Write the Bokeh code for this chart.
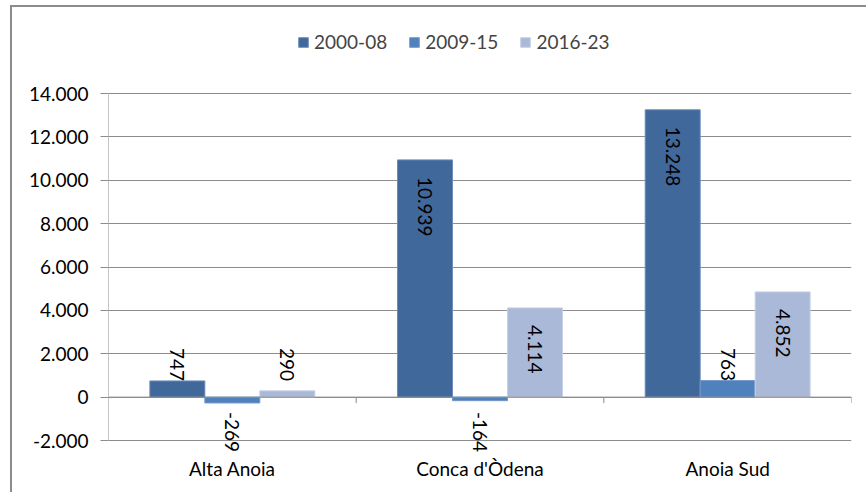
import math
from bokeh.plotting import figure
from bokeh.models import (ColumnDataSource, Range1d, FixedTicker, Legend, LegendItem, Span)
from bokeh.core.properties import value
from bokeh.embed import file_html
from bokeh.resources import INLINE

# ---- data ----
categories = ["Alta Anoia", "Conca d'Òdena", "Anoia Sud"]
series_names = ["2000-08", "2009-15", "2016-23"]
s_2000_08 = [747, 10939, 13248]
s_2009_15 = [-269, -164, 763]
s_2016_23 = [290, 4114, 4852]
y_ticks = [-2000, 0, 2000, 4000, 6000, 8000, 10000, 12000, 14000]
y_tick_labels = ["-2.000", "0", "2.000", "4.000", "6.000", "8.000", "10.000", "12.000", "14.000"]

colors = ["#40689A", "#4F81BD", "#AAB9D7"]
edge_colors = ["#6A8DBC", "#7398C8", "#C6D1E6"]
FONT = "Lato"
FS = "19px"
GRID = "#8C8C8C"

# ---- layout (page pixels) ----
CANVAS_X, CANVAS_Y = 12, 7          # where the canvas starts (after css margin+border)
W, H = 868 - CANVAS_X, 494 - CANVAS_Y
FRAME_LEFT, FRAME_RIGHT = 108, 851
FRAME_TOP, FRAME_BOTTOM = 20, 454
Y_TOP_PX, Y_BOT_PX = 93, 440       # pixel rows of 14.000 and -2.000
YMIN, YMAX = y_ticks[0], y_ticks[-1]
ppu = (Y_BOT_PX - Y_TOP_PX) / (YMAX - YMIN)
y_start = YMIN - (FRAME_BOTTOM - Y_BOT_PX) / ppu
y_end = YMAX + (Y_TOP_PX - FRAME_TOP) / ppu

p = figure(width=W, height=H, output_backend="svg", toolbar_location=None,
           x_range=Range1d(0, len(categories)), y_range=Range1d(y_start, y_end),
           min_border_left=FRAME_LEFT - CANVAS_X, min_border_right=868 - FRAME_RIGHT,
           min_border_top=FRAME_TOP - CANVAS_Y, min_border_bottom=494 - FRAME_BOTTOM,
           styles={"margin-left": "10px", "margin-top": "5px",
                   "border-left": f"2px solid {GRID}", "border-top": f"2px solid {GRID}"})
p.outline_line_color = None
p.background_fill_color = "white"
p.border_fill_color = "white"

# y axis
p.yaxis.ticker = FixedTicker(ticks=y_ticks)
p.yaxis.major_label_overrides = {t: l for t, l in zip(y_ticks, y_tick_labels)}
p.yaxis.axis_line_color = None
p.yaxis.major_tick_line_color = GRID
p.yaxis.major_tick_out = 8
p.yaxis.major_tick_in = 0
p.yaxis.minor_tick_line_color = None
p.yaxis.major_label_standoff = 12
p.yaxis.major_label_text_font = FONT
p.yaxis.major_label_text_font_size = FS
p.yaxis.major_label_text_color = "black"
p.segment(x0=[0], x1=[0], y0=[YMIN], y1=[YMAX], line_color=GRID, line_width=1)

# x axis (labels only)
centers = [i + 0.5 for i in range(len(categories))]
p.xaxis.ticker = FixedTicker(ticks=centers)
p.xaxis.major_label_overrides = {c: n for c, n in zip(centers, categories)}
p.xaxis.axis_line_color = None
p.xaxis.major_tick_line_color = None
p.xaxis.major_tick_in = 0
p.xaxis.major_tick_out = 0
p.xaxis.minor_tick_line_color = None
p.xaxis.major_label_standoff = 2
p.xaxis.major_label_text_font = FONT
p.xaxis.major_label_text_font_size = FS
p.xaxis.major_label_text_color = "black"

p.xgrid.grid_line_color = None
p.ygrid.ticker = FixedTicker(ticks=y_ticks)
p.ygrid.grid_line_color = GRID
p.ygrid.grid_line_width = 1

# zero line + category boundary ticks
p.add_layout(Span(location=0, dimension="width", line_color=GRID, line_width=1))
tick_len = 6 / ppu
bounds = list(range(1, len(categories) + 1))
p.segment(x0=bounds, x1=bounds, y0=[0] * len(bounds), y1=[-tick_len] * len(bounds),
          line_color=GRID, line_width=1)

# bars
all_series = [s_2000_08, s_2009_15, s_2016_23]
bw = 0.222
renderers = []
for k, (name, vals) in enumerate(zip(series_names, all_series)):
    xs = [c + (k - 1) * bw for c in centers]
    r = p.vbar(x=xs, top=vals, bottom=0, width=bw, fill_color=colors[k],
               line_color=edge_colors[k], line_width=1)
    renderers.append(r)

# data labels
def fmt(v):
    return f"{v:,}".replace(",", ".")

inside = dict(x=[], y=[], t=[])
small_pos = dict(x=[], y=[], t=[])
neg = dict(x=[], y=[], t=[])
for k, vals in enumerate(all_series):
    for c, v in zip(centers, vals):
        x = c + (k - 1) * bw
        if v >= 2000:
            d = inside
        elif v >= 0:
            d = small_pos
        else:
            d = neg
        d["x"].append(x)
        d["y"].append(v if v >= 2000 else 0)
        d["t"].append(fmt(v))

common = dict(angle=-math.pi / 2, text_font=value(FONT), text_font_size=FS,
              text_color="black", text_baseline="middle")
p.text(x="x", y="y", text="t", source=ColumnDataSource(inside), text_align="left",
       y_offset=17, **common)
p.text(x="x", y="y", text="t", source=ColumnDataSource(small_pos), text_align="right",
       y_offset=-16, **common)
p.text(x="x", y="y", text="t", source=ColumnDataSource(neg), text_align="right",
       y_offset=55, **common)

# legend (inside the extended frame, above the plot area)
legend = Legend(items=[LegendItem(label=n, renderers=[r]) for n, r in zip(series_names, renderers)],
                location=(297 - FRAME_LEFT, FRAME_BOTTOM - 53), orientation="horizontal",
                glyph_width=12, glyph_height=12, label_standoff=5, spacing=21,
                padding=0, margin=0, border_line_color=None, background_fill_alpha=0,
                label_text_font=FONT, label_text_font_size=FS, label_height=20)
p.add_layout(legend)

open("out.html", "w").write(file_html(p, INLINE))
